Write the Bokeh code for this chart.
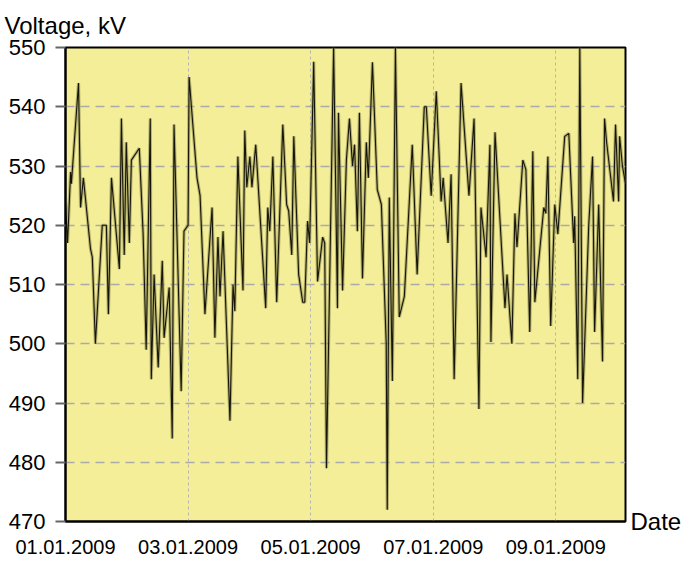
import pandas as pd
from bokeh.plotting import figure
from bokeh.models import FixedTicker, DatetimeTickFormatter, Range1d, LinearAxis
from bokeh.embed import file_html
from bokeh.resources import INLINE

# hours since 01.01.2009 00:00
hours = [0.0, 0.8, 2.0, 2.3, 5.1, 5.9, 7.0, 9.8, 10.5, 11.7, 14.4, 16.0, 16.8, 18.0, 21.1, 21.9,
         23.0, 23.8, 25.0, 25.8, 28.9, 30.4, 31.6, 33.2, 33.6, 34.7, 36.3, 37.9, 38.6, 40.6, 41.8,
         42.5, 45.3, 46.4, 48.0, 48.4, 51.5, 52.7, 54.6, 57.4, 58.5, 59.7, 60.5, 61.7, 64.4, 65.6,
         66.3, 67.5, 69.5, 70.2, 71.0, 72.2, 73.0, 74.5, 78.4, 79.2, 80.0, 81.2, 82.7, 85.1, 86.6,
         87.4, 88.6, 89.4, 91.3, 92.9, 93.7, 94.8, 95.6, 97.2, 98.7, 100.7, 101.5, 102.2, 105.0,
         106.5, 106.9, 108.5, 110.0, 111.2, 112.4, 113.2, 114.3, 115.1, 116.3, 117.8, 118.6, 120.2,
         122.1, 123.7, 125.6, 126.0, 126.8, 128.0, 129.2, 130.7, 132.7, 135.8, 137.7, 140.5, 141.3,
         143.2, 145.2, 146.3, 147.1, 147.9, 149.8, 151.0, 152.2, 154.9, 158.0, 160.0, 161.9, 162.7,
         164.7, 166.2, 166.6, 168.2, 172.1, 172.9, 174.8, 176.0, 176.8, 179.1, 180.3, 181.8, 183.0,
         183.8, 187.3, 188.1, 188.9, 190.0, 191.6, 192.8, 195.5, 197.1, 199.0, 199.4, 200.6, 201.4,
         202.5, 204.9, 206.4, 207.2, 208.8, 210.3, 211.1, 211.9, 214.6, 215.4, 216.6, 217.0, 218.1,
         219.3]
voltage_kv = [524, 517, 529, 527, 544, 523, 528, 516, 514.6, 500, 520, 520, 505, 528, 512.6, 538,
              515, 534, 517, 531, 533, 518.5, 499, 538, 494, 511.7, 496, 514, 501, 509.5, 484,
              537, 492, 519, 520, 545, 528, 525, 505, 523, 501, 518, 508, 519, 487, 510,
              505.5, 531.6, 509, 536, 526.4, 531.6, 526.4, 533.6, 506, 523, 519, 531.6, 507, 537, 523.5,
              522.4, 515, 535, 511.7, 507, 507, 520.7, 517, 547.6, 510.5, 518, 517, 479, 550,
              506, 539, 509, 531, 538, 530, 533.6, 519, 539, 511, 534, 528, 547.5,
              526, 523.5, 500, 472, 524.7, 493.7, 550, 504.5, 508, 533.6, 511.7, 540, 540,
              525, 542.6, 532, 524, 528, 517, 528.6, 494, 544, 525, 538, 489, 523,
              514.6, 533.6, 500.3, 535.7, 506, 511.7, 500, 522, 516.3, 531, 529.4, 502, 532.5,
              507, 523, 522, 531.6, 503, 523.5, 518.5, 535, 535.5, 517, 521.5, 494, 550,
              490, 520, 531.6, 502, 523.5, 497, 538, 534, 524, 537, 524, 535, 530,
              527]

tick_dates = ["2009-01-01", "2009-01-03", "2009-01-05", "2009-01-07", "2009-01-09"]
y_ticks = [470, 480, 490, 500, 510, 520, 530, 540, 550]
x_axis_name = "Date"
y_axis_name = "Voltage, kV"

start = pd.Timestamp("2009-01-01 00:00")
times = [start + pd.Timedelta(hours=h) for h in hours]
x_end = start + pd.Timedelta(hours=219.3)
tick_ms = [pd.Timestamp(d).value / 1e6 for d in tick_dates]

p = figure(width=684, height=560, x_axis_type="datetime", output_backend="svg",
           toolbar_location=None, x_range=Range1d(start, x_end), y_range=Range1d(470, 550),
           min_border_left=65, min_border_right=57, min_border_top=47, min_border_bottom=39)

p.border_fill_color = "white"
p.background_fill_color = "#F5EE98"
p.outline_line_color = "black"
p.outline_line_width = 2

# grids
p.ygrid.ticker = FixedTicker(ticks=y_ticks)
p.ygrid.grid_line_color = "#aaaaaa"
p.ygrid.grid_line_width = 1.5
p.ygrid.grid_line_dash = "9 6"
p.xgrid.ticker = FixedTicker(ticks=tick_ms)
p.xgrid.grid_line_color = "#b5b5b5"
p.xgrid.grid_line_width = 1
p.xgrid.grid_line_dash = "3 3"

# axes
p.yaxis.ticker = FixedTicker(ticks=y_ticks)
p.yaxis.major_label_text_font = "Liberation Sans"
p.yaxis.major_label_text_font_size = "22px"
p.yaxis.major_label_text_color = "black"
p.yaxis.major_tick_out = 10
p.yaxis.major_tick_in = 0
p.yaxis.major_tick_line_color = "#666666"
p.yaxis.major_tick_line_width = 2
p.yaxis.minor_tick_line_color = None
p.yaxis.axis_line_color = "black"
p.yaxis.axis_line_width = 2
p.yaxis.major_label_standoff = 10

p.xaxis.ticker = FixedTicker(ticks=tick_ms)
fmt = "%d.%m.%Y"
p.xaxis.formatter = DatetimeTickFormatter(hours=fmt, days=fmt, months=fmt, years=fmt,
                                          minutes=fmt, hourmin=fmt)
p.xaxis.major_label_text_font = "Liberation Sans"
p.xaxis.major_label_text_font_size = "20px"
p.xaxis.major_label_text_color = "black"
p.xaxis.major_tick_out = 0
p.xaxis.major_tick_in = 0
p.xaxis.minor_tick_line_color = None
p.xaxis.axis_line_color = "black"
p.xaxis.axis_line_width = 2
p.xaxis.major_label_standoff = 18

# "Date" name at the right end of the x axis (as a single right-axis label at 470)
date_axis = LinearAxis(ticker=FixedTicker(ticks=[470]),
                       major_label_overrides={470: x_axis_name},
                       major_label_text_font="Liberation Sans",
                       major_label_text_font_size="24px",
                       major_label_text_color="black",
                       major_label_standoff=5,
                       major_tick_out=0, major_tick_in=0,
                       minor_tick_line_color=None, axis_line_color=None)
p.add_layout(date_axis, "right")

# title as y-axis name
p.title.text = y_axis_name
p.title.text_font = "Liberation Sans"
p.title.text_font_size = "24px"
p.title.text_font_style = "normal"
p.title.text_color = "black"
p.title.align = "left"
p.title.offset = -61
p.title.standoff = 18

# the series
p.line(times, voltage_kv, line_color="#8c8a50", line_width=3.2, line_alpha=0.6)
p.line(times, voltage_kv, line_color="#15150a", line_width=1.1)

open("out.html", "w").write(file_html(p, INLINE))
